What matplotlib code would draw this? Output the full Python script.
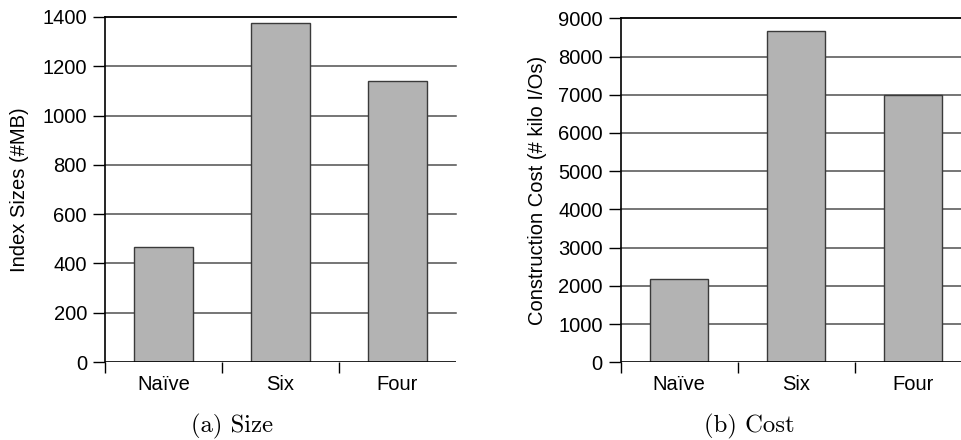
import numpy as np
import matplotlib.pyplot as plt

plt.rcParams['font.family'] = ['Liberation Sans', 'DejaVu Sans']

# Data
categories = ['Naïve', 'Six', 'Four']
index_size_mb = [468, 1374, 1142]
construction_cost_kio = [2170, 8660, 7000]

size_ticks = [0, 200, 400, 600, 800, 1000, 1200, 1400]
cost_ticks = [0, 1000, 2000, 3000, 4000, 5000, 6000, 7000, 8000, 9000]

fig = plt.figure(figsize=(9.61, 4.40), dpi=100)
ax_size = fig.add_axes([105 / 961, 78 / 440, 351 / 961, 345 / 440])
ax_cost = fig.add_axes([620.7 / 961, 77.7 / 440, 340.3 / 961, 344 / 440])

x = np.arange(len(categories))


def style_axis(ax, values, ticks, ylabel, xmax):
    ax.set_axisbelow(True)
    ax.bar(x, values, width=0.5, color='#b3b3b3', edgecolor='#3a3a3a',
           linewidth=1.0, zorder=3)
    ax.set_xlim(-0.5, xmax)
    ax.set_ylim(0, ticks[-1])
    ax.set_yticks(ticks)
    ax.set_yticklabels([str(t) for t in ticks], fontsize=14.5)
    for t in ticks[1:]:
        ax.axhline(t, color='#000000' if t == ticks[-1] else '#505050',
                   linewidth=1.3 if t == ticks[-1] else 1.1, zorder=1,
                   clip_on=False)
    ax.axhline(0, color='#000000', linewidth=1.2, zorder=4)
    # category labels at centres, tick marks between categories
    ax.set_xticks(x)
    ax.set_xticklabels(categories, fontsize=14.5)
    ax.tick_params(axis='x', length=0, pad=9)
    ax.set_xticks([-0.5, 0.5, 1.5], minor=True)
    ax.tick_params(axis='x', which='minor', length=8, width=1.0, direction='out')
    ax.tick_params(axis='y', length=9, width=1.0, direction='out', pad=4)
    for s in ['top', 'right', 'bottom']:
        ax.spines[s].set_visible(False)
    ax.spines['left'].set_linewidth(1.2)
    ax.spines['left'].set_bounds(0, ticks[-1])
    ax.set_ylabel(ylabel, fontsize=14.5)


style_axis(ax_size, index_size_mb, size_ticks, 'Index Sizes (#MB)', 2.5)
style_axis(ax_cost, construction_cost_kio, cost_ticks,
           'Construction Cost (# kilo I/Os)', 2.5 - 10.7 / 117)

ax_size.yaxis.set_label_coords(-0.2165, 0.5)
ax_cost.yaxis.set_label_coords(-0.2166, 0.5)

fig.text(232.5 / 961, 8 / 440, '(a) Size', family='cmr10',
         fontsize=17.8, ha='center', va='baseline')
fig.text(749.5 / 961, 8 / 440, '(b) Cost', family='cmr10',
         fontsize=17.8, ha='center', va='baseline')

plt.savefig('out.png', dpi=100)
